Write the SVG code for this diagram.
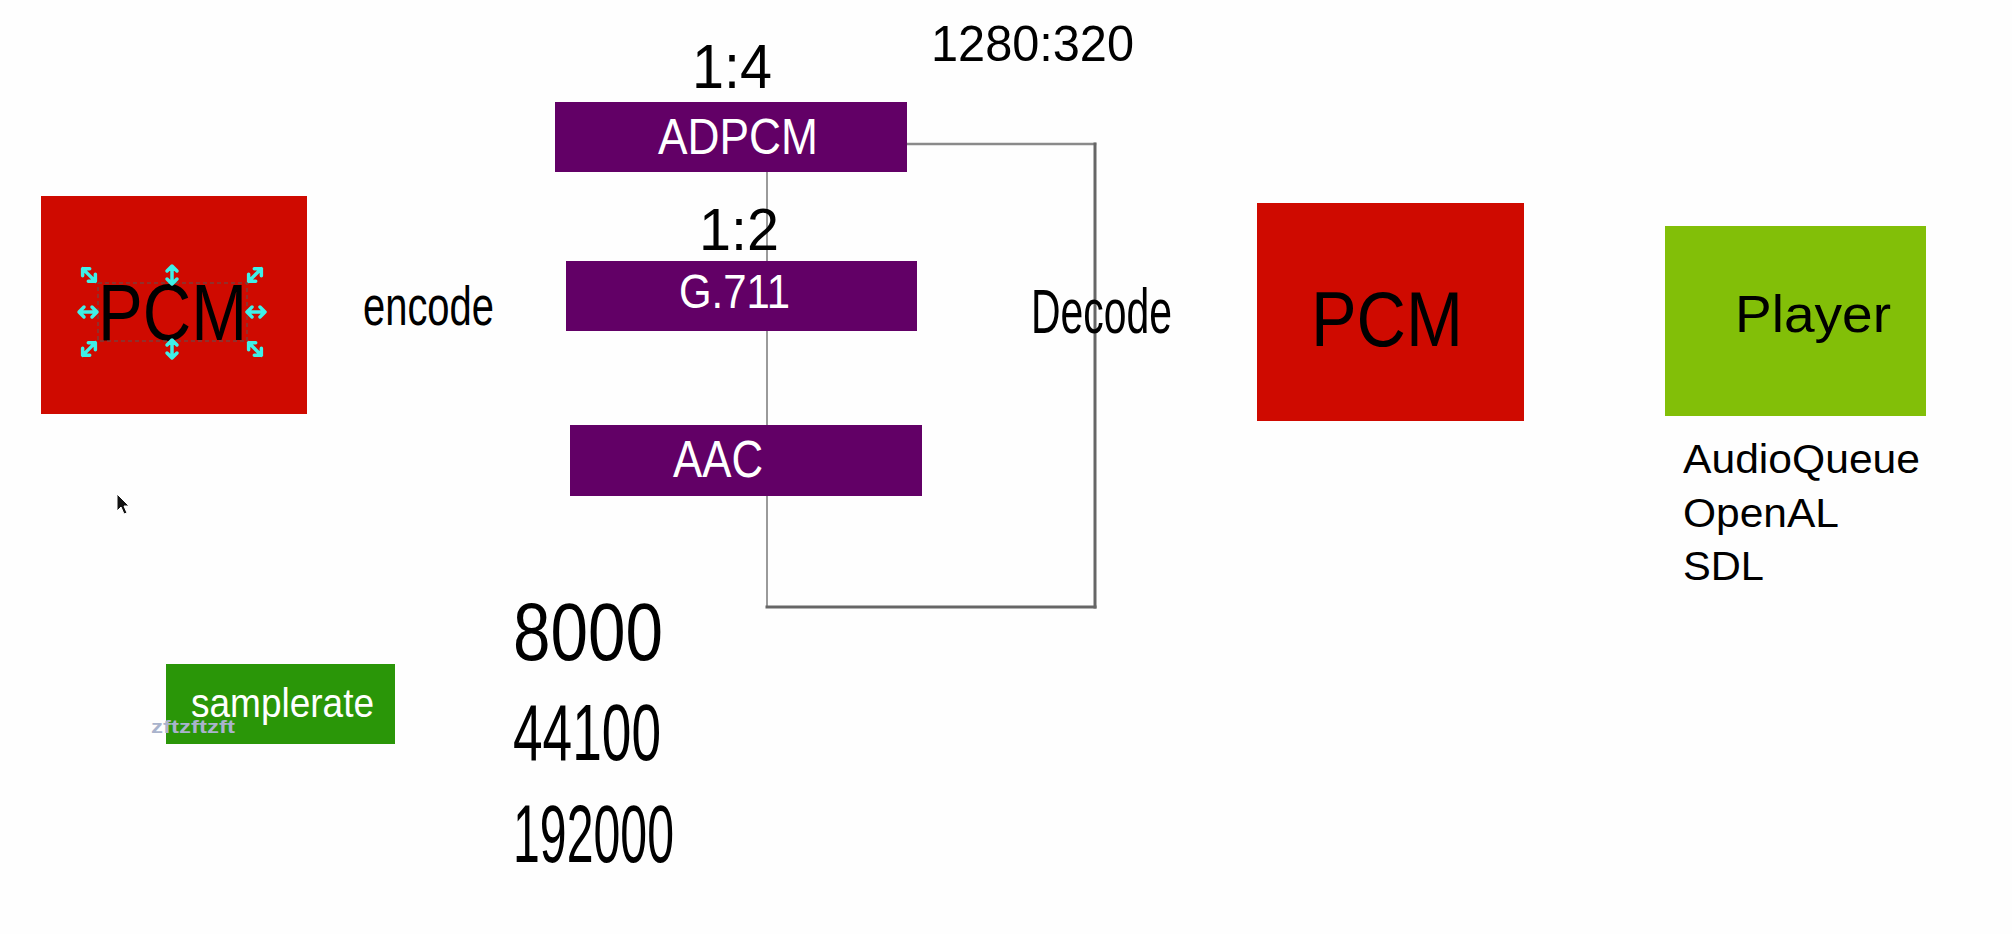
<svg xmlns="http://www.w3.org/2000/svg" width="2012" height="934" viewBox="0 0 2012 934">
<style>
text{font-family:"Liberation Sans",Arial,sans-serif;}
.dark{fill:#000;}
.white{fill:#fff;}
.red{fill:#cf0a00;}
.purple{fill:#620066;}
.conn{fill:none;stroke-linecap:square;}
.h{fill:none;stroke:#3ff0e8;stroke-width:3.5;stroke-linecap:round;stroke-linejoin:round;}
</style>
<defs>
<path id="dbl" d="M-9,0 L9,0 M-9,0 l5,-5 M-9,0 l5,5 M9,0 l-5,-5 M9,0 l-5,5"/>
</defs>
<rect width="2012" height="934" fill="#fefefe"/>

<g id="connectors">
<line class="conn" x1="767" y1="172" x2="767" y2="607" stroke="#9a9a9a" stroke-width="2"/>
<line class="conn" x1="907" y1="144" x2="1095" y2="144" stroke="#8a8a8a" stroke-width="2.5"/>
<line class="conn" x1="1095" y1="144" x2="1095" y2="607" stroke="#666" stroke-width="3"/>
<line class="conn" x1="767" y1="607" x2="1095" y2="607" stroke="#666" stroke-width="3"/>
</g>

<g id="pcm-left">
<rect class="red" x="41" y="196" width="266" height="218"/>
<text class="dark" x="98" y="340" font-size="79" textLength="149" lengthAdjust="spacingAndGlyphs">PCM</text>
<rect x="98" y="283" width="149" height="58" fill="none" stroke="#555" stroke-width="1" stroke-dasharray="4,3"/>
<g class="h">
<use href="#dbl" transform="translate(89,275) rotate(45)"/>
<use href="#dbl" transform="translate(172,275) rotate(90)"/>
<use href="#dbl" transform="translate(255,275) rotate(-45)"/>
<use href="#dbl" transform="translate(88,312)"/>
<use href="#dbl" transform="translate(256,312)"/>
<use href="#dbl" transform="translate(89,349) rotate(-45)"/>
<use href="#dbl" transform="translate(172,349) rotate(90)"/>
<use href="#dbl" transform="translate(255,349) rotate(45)"/>
</g>
</g>

<g id="encode-label">
<text class="dark" x="363" y="325" font-size="56" textLength="131" lengthAdjust="spacingAndGlyphs">encode</text>
</g>

<g id="ratio-14">
<text class="dark" x="692" y="88" font-size="63" textLength="80" lengthAdjust="spacingAndGlyphs">1:4</text>
</g>
<g id="ratio-1280">
<text class="dark" x="931" y="61" font-size="50" textLength="203" lengthAdjust="spacingAndGlyphs">1280:320</text>
</g>
<g id="ratio-12">
<text class="dark" x="699" y="250" font-size="60" textLength="80" lengthAdjust="spacingAndGlyphs">1:2</text>
</g>

<g id="adpcm">
<rect class="purple" x="555" y="102" width="352" height="70"/>
<text class="white" x="658" y="154" font-size="50" textLength="160" lengthAdjust="spacingAndGlyphs">ADPCM</text>
</g>
<g id="g711">
<rect class="purple" x="566" y="261" width="351" height="70"/>
<text class="white" x="679" y="308" font-size="49" textLength="111" lengthAdjust="spacingAndGlyphs">G.711</text>
</g>
<g id="aac">
<rect class="purple" x="570" y="425" width="352" height="71"/>
<text class="white" x="673" y="477" font-size="51" textLength="90" lengthAdjust="spacingAndGlyphs">AAC</text>
</g>

<g id="decode-label">
<text class="dark" x="1031" y="333" font-size="63" textLength="141" lengthAdjust="spacingAndGlyphs">Decode</text>
</g>

<g id="pcm-right">
<rect class="red" x="1257" y="203" width="267" height="218"/>
<text class="dark" x="1311" y="346" font-size="78" textLength="152" lengthAdjust="spacingAndGlyphs">PCM</text>
</g>

<g id="player">
<rect x="1665" y="226" width="261" height="190" fill="#82bf08"/>
<text class="dark" x="1735" y="332" font-size="52" textLength="156" lengthAdjust="spacingAndGlyphs">Player</text>
</g>

<g id="player-list">
<text class="dark" x="1683" y="473" font-size="40" textLength="237" lengthAdjust="spacingAndGlyphs">AudioQueue</text>
<text class="dark" x="1683" y="527" font-size="41" textLength="156" lengthAdjust="spacingAndGlyphs">OpenAL</text>
<text class="dark" x="1683" y="580" font-size="41" textLength="81" lengthAdjust="spacingAndGlyphs">SDL</text>
</g>

<g id="samplerate">
<rect x="166" y="664" width="229" height="80" fill="#2a9608"/>
<text class="white" x="191" y="717" font-size="40" textLength="183" lengthAdjust="spacingAndGlyphs">samplerate</text>
<text x="151" y="733" font-size="18" font-weight="bold" fill="#a9b3cc" textLength="84" lengthAdjust="spacingAndGlyphs">zftzftzft</text>
</g>

<g id="rates">
<text class="dark" x="513" y="660" font-size="81" textLength="150" lengthAdjust="spacingAndGlyphs">8000</text>
<text class="dark" x="513" y="760" font-size="80" textLength="148" lengthAdjust="spacingAndGlyphs">44100</text>
<text class="dark" x="513" y="862" font-size="82" textLength="161" lengthAdjust="spacingAndGlyphs">192000</text>
</g>

<g id="cursor">
<path d="M117,494 L117,511 L121,507 L124,514 L127,513 L124,506 L129,506 Z" fill="#111" stroke="#fff" stroke-width="1"/>
</g>
</svg>
